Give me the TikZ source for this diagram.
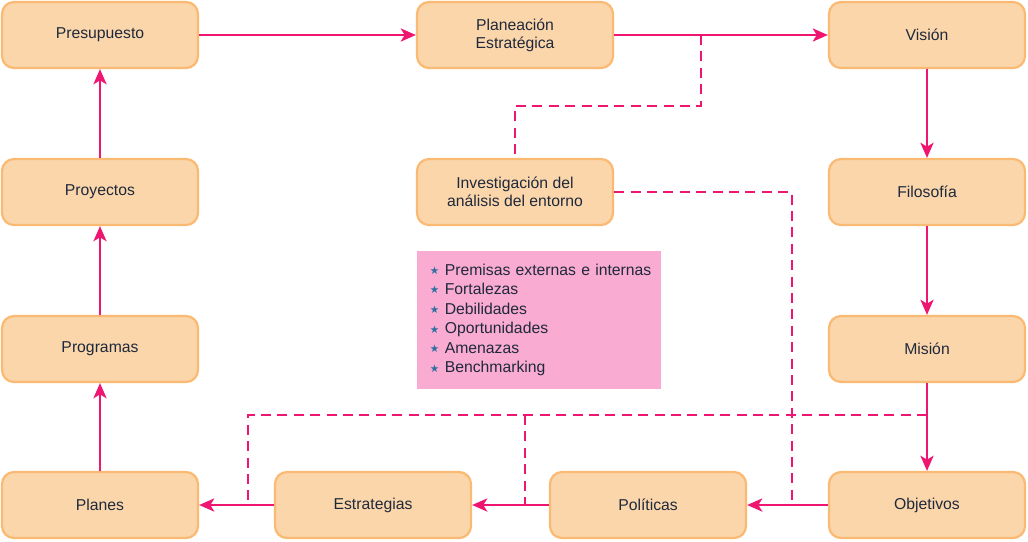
\documentclass[tikz,border=0pt]{standalone}
\usepackage{fontspec}
\setmainfont{Liberation Sans}
\newfontfamily\starfont{DejaVu Sans}
\usetikzlibrary{arrows.meta,positioning,calc}
\definecolor{boxfill}{HTML}{FCD6AB}
\definecolor{boxline}{HTML}{FBBA73}
\definecolor{flow}{HTML}{EE1670}
\definecolor{notefill}{HTML}{F9ABD2}
\definecolor{ink}{HTML}{1E293B}
\definecolor{starblue}{HTML}{2E6EA0}
% columns and rows
\def\ca{2.5}
\def\cb{9.325}
\def\cc{12.875}
\def\cd{16.2}
\def\ce{23.175}
\def\ra{-0.875}
\def\rb{-4.8}
\def\rc{-8.725}
\def\rd{-12.625}
\newcommand\staritem[1]{\mbox{{\color{starblue}\starfont\fontsize{7.5}{7.5}\selectfont\raisebox{0.6pt}{★}}\hspace{0.14cm}#1}}

\begin{document}
\begin{tikzpicture}
    [
        block/.style={rectangle, rounded corners=0.3cm, draw=boxline, line width=1.6pt, fill=boxfill,
            minimum width=4.9cm, minimum height=1.65cm, align=center, text=ink,
            font=\fontsize{11.2}{12.8}\selectfont},
        flowline/.style={flow, line width=1.4pt, -{Stealth[length=3.8mm,width=3.3mm,inset=1mm]}},
        link/.style={flow, line width=1.4pt, dash pattern=on 2.5mm off 1.6mm},
        note/.style={rectangle, fill=notefill, text=ink, align=left, text width=5.46cm,
            inner xsep=0.32cm, minimum height=3.45cm, font=\fontsize{11.2}{13.9}\selectfont}
    ]
    % top row
    \node[block] (presupuesto) at (\ca,\ra) {Presupuesto};
    \node[block] (planeacion) at (\cc,\ra) {Planeación\\Estratégica};
    \node[block] (vision) at (\ce,\ra) {Visión};
    % second row
    \node[block] (proyectos) at (\ca,\rb) {Proyectos};
    \node[block] (investigacion) at (\cc,\rb) {Investigación del\\análisis del entorno};
    \node[block] (filosofia) at (\ce,\rb) {Filosofía};
    % third row
    \node[block] (programas) at (\ca,\rc) {Programas};
    \node[block] (mision) at (\ce,\rc) {Misión};
    % bottom row
    \node[block] (planes) at (\ca,\rd) {Planes};
    \node[block] (estrategias) at (\cb,\rd) {Estrategias};
    \node[block] (politicas) at (\cd,\rd) {Políticas};
    \node[block] (objetivos) at (\ce,\rd) {Objetivos};

    \node[note] (premisas) at (13.475,-8.0) {\staritem{Premisas externas e internas}\\
        \staritem{Fortalezas}\\
        \staritem{Debilidades}\\
        \staritem{Oportunidades}\\
        \staritem{Amenazas}\\
        \staritem{Benchmarking}};

    % main flow
    \draw[flowline] (presupuesto) -- (planeacion);
    \draw[flowline] (planeacion) -- (vision);
    \draw[flowline] (vision) -- (filosofia);
    \draw[flowline] (filosofia) -- (mision);
    \draw[flowline] (mision) -- (objetivos);
    \draw[flowline] (objetivos) -- (politicas);
    \draw[flowline] (politicas) -- (estrategias);
    \draw[flowline] (estrategias) -- (planes);
    \draw[flowline] (planes) -- (programas);
    \draw[flowline] (programas) -- (proyectos);
    \draw[flowline] (proyectos) -- (presupuesto);

    % junctions of the dashed links
    \coordinate (j1) at (17.525,\ra);
    \coordinate (j1b) at (17.525,-2.65);
    \coordinate (j2) at (19.8,\rd);
    \coordinate (j3) at (\ce,-10.375);
    \coordinate (j4) at (6.2,\rd);
    \coordinate (j5) at (13.125,\rd);
    \coordinate (j5t) at (13.125,-10.375);

    \draw[link] (j1) -- (j1b) -| (investigacion.north);
    \draw[link] (investigacion.east) -| (j2);
    \draw[link] (j3) -| (j4);
    \draw[link] (j5t) -- (j5);

    \pgfresetboundingbox
    \useasboundingbox (0,0) rectangle (25.7,-13.525);
\end{tikzpicture}
\end{document}
